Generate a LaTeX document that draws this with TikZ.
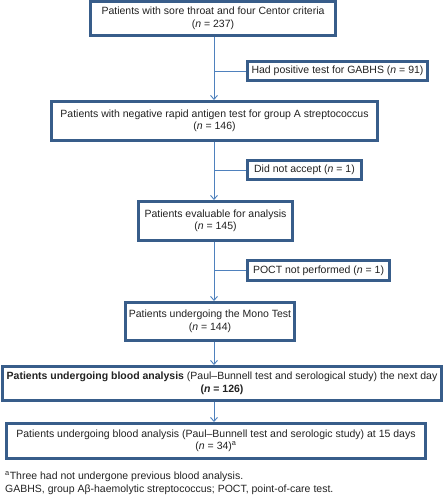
\documentclass[tikz,border=0pt]{standalone}
\usepackage{fontspec}
\setmainfont{Liberation Sans}
\usetikzlibrary{arrows.meta}
\definecolor{boxblue}{HTML}{385D8A}
\definecolor{linkblue}{HTML}{4F81BD}
\definecolor{txt}{HTML}{222222}
\begin{document}
\begin{tikzpicture}[x=1pt,y=-1pt,
  box/.style={draw=boxblue, line width=3pt, fill=white, align=center, inner sep=0pt,
    font=\fontsize{10.5}{12.5}\selectfont, text=txt},
  link/.style={draw=linkblue, line width=0.9pt},
  arr/.style={link, -{Straight Barb[length=4pt,width=7pt]}},
  note/.style={anchor=west, inner sep=0pt, font=\fontsize{10.5}{12.5}\selectfont, text=txt}]
\useasboundingbox (0,0) rectangle (445,500);
\coordinate (spine) at (214,0);
\node[box, minimum width=245pt, minimum height=34pt] (b1) at (213,18.5)
  {Patients with sore throat and four Centor criteria\\(\textit{n} = 237)};
\node[box, minimum width=180pt, minimum height=19pt] (s1) at (337.5,71)
  {Had positive test for GABHS (\textit{n} = 91)};
\node[box, minimum width=326pt, minimum height=39pt] (b2) at (214.5,121)
  {Patients with negative rapid antigen test for group A streptococcus\\(\textit{n} = 146)};
\node[box, minimum width=114pt, minimum height=19pt] (s2) at (304.5,170)
  {Did not accept (\textit{n} = 1)};
\node[box, minimum width=154pt, minimum height=39pt] (b3) at (215.5,221)
  {Patients evaluable for analysis\\(\textit{n} = 145)};
\node[box, minimum width=142pt, minimum height=20pt] (s3) at (318.5,270.5)
  {POCT not performed (\textit{n} = 1)};
\node[box, minimum width=169pt, minimum height=38pt] (b4) at (210,321.5)
  {Patients undergoing the Mono Test\\(\textit{n} = 144)};
\node[box, minimum width=439pt, minimum height=34pt] (b5) at (222,383.5)
  {\textbf{Patients undergoing blood analysis} (Paul--Bunnell test and serological study) the next day\\\textbf{(\textit{n} = 126)}};
\node[box, minimum width=419pt, minimum height=35pt] (b6) at (216,441)
  {Patients undergoing blood analysis (Paul--Bunnell test and serologic study) at 15 days\\(\textit{n} = 34)\textsuperscript{a}};
\node[note] (f1) at (5,477) {\textsuperscript{a}Three had not undergone previous blood analysis.};
\node[note] (f2) at (5,490) {GABHS, group Aβ-haemolytic streptococcus; POCT, point-of-care test.};
\draw[arr] (b1.south -| spine) -- (b2.north -| spine);
\draw[arr] (b2.south -| spine) -- (b3.north -| spine);
\draw[arr] (b3.south -| spine) -- (b4.north -| spine);
\draw[arr] (b4.south -| spine) -- (b5.north -| spine);
\draw[arr] (b5.south -| spine) -- (b6.north -| spine);
\draw[link] (s1.west) -- (s1.west -| spine);
\draw[link] (s2.west) -- (s2.west -| spine);
\draw[link] (s3.west) -- (s3.west -| spine);
\end{tikzpicture}
\end{document}
